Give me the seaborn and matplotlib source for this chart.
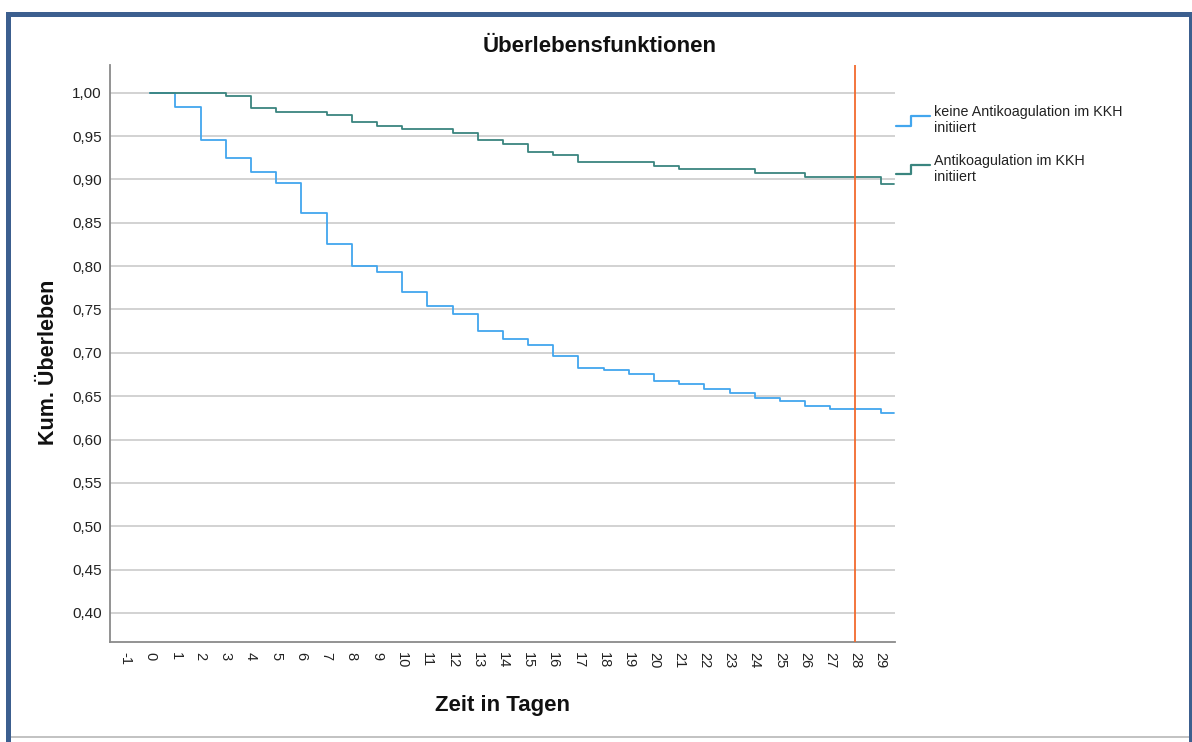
import numpy as np
import pandas as pd
import matplotlib
matplotlib.use("Agg")
import matplotlib.pyplot as plt
import seaborn as sns
from matplotlib.lines import Line2D
from matplotlib.patches import Rectangle
from matplotlib.legend_handler import HandlerBase
from matplotlib.ticker import FuncFormatter, FixedLocator

# ---------------- data ----------------
days = [0, 1, 2, 3, 4, 5, 6, 7, 8, 9, 10, 11, 12, 13, 14, 15, 16, 17, 18, 19,
        20, 21, 22, 23, 24, 25, 26, 27, 28, 29, 29.55]
surv_keine = [1.000, 0.983, 0.945, 0.925, 0.909, 0.896, 0.861, 0.825, 0.800, 0.793,
              0.770, 0.754, 0.745, 0.725, 0.716, 0.709, 0.696, 0.683, 0.680, 0.676,
              0.667, 0.664, 0.658, 0.654, 0.648, 0.645, 0.639, 0.635, 0.635, 0.631, 0.631]
surv_anti = [1.000, 1.000, 1.000, 0.996, 0.982, 0.978, 0.978, 0.974, 0.966, 0.962,
             0.958, 0.958, 0.954, 0.946, 0.941, 0.932, 0.928, 0.920, 0.920, 0.920,
             0.916, 0.912, 0.912, 0.912, 0.907, 0.907, 0.903, 0.903, 0.903, 0.895, 0.895]
group_labels = ["keine Antikoagulation im KKH\ninitiiert", "Antikoagulation im KKH\ninitiiert"]
x_ticks = list(range(-1, 30))
y_ticks = [0.40, 0.45, 0.50, 0.55, 0.60, 0.65, 0.70, 0.75, 0.80, 0.85, 0.90, 0.95, 1.00]
marker_day = 28
title = "Überlebensfunktionen"
xlabel = "Zeit in Tagen"
ylabel = "Kum. Überleben"

# ---------------- style ----------------
sns.set_theme(style="white")
plt.rcParams["font.family"] = ["Liberation Sans", "DejaVu Sans"]
BOLD_FAM = ["Liberation Sans", "DejaVu Sans"]

c_blue = "#42a6ee"
c_green = "#3a857f"
c_orange = "#f26a2e"
c_grid = "#cfcfcf"
c_axis = "#8a8a8a"
c_frame = "#3c5f8f"

W, H = 1192, 742
fig = plt.figure(figsize=(W / 100, H / 100), dpi=100)
ax = fig.add_axes([110 / W, 1 - 642 / H, (895 - 110) / W, (642 - 65) / H])

df = pd.DataFrame({
    "Zeit": days * 2,
    "Surv": surv_keine + surv_anti,
    "Gruppe": [group_labels[0]] * len(days) + [group_labels[1]] * len(days),
})

sns.lineplot(data=df, x="Zeit", y="Surv", hue="Gruppe", hue_order=group_labels,
             palette=[c_blue, c_green], drawstyle="steps-post", estimator=None,
             sort=False, linewidth=1.3, ax=ax, legend=False, zorder=3)

ax.axvline(marker_day, color=c_orange, lw=1.3, zorder=4)

ax.set_xlim(-1.6, 29.57)
ax.set_ylim(0.3665, 1.032)

ax.yaxis.set_major_locator(FixedLocator(y_ticks))
ax.yaxis.set_major_formatter(FuncFormatter(lambda v, p: f"{v:.2f}".replace(".", ",")))
ax.xaxis.set_major_locator(FixedLocator(x_ticks))
ax.xaxis.set_major_formatter(FuncFormatter(lambda v, p: f"{int(round(v))}"))

ax.grid(axis="y", color=c_grid, lw=1.3, zorder=1)
ax.grid(axis="x", visible=False)
for s in ["top", "right"]:
    ax.spines[s].set_visible(False)
for s in ["left", "bottom"]:
    ax.spines[s].set_color(c_axis)
    ax.spines[s].set_linewidth(1.3)

ax.tick_params(axis="y", length=0, labelsize=11, labelcolor="#222222", pad=6)
ax.tick_params(axis="x", direction="inout", length=9, width=1.0, color=c_axis,
               labelsize=10.5, labelcolor="#222222", labelrotation=-90, pad=3)

ax.set_xlabel(xlabel, fontsize=16, fontweight="bold", family=BOLD_FAM, color="#111111")
ax.set_ylabel(ylabel, fontsize=15.5, fontweight="bold", family=BOLD_FAM, color="#111111")
ax.xaxis.set_label_coords(0.5, (642 - 695) / 577)
ax.yaxis.set_label_coords((59 - 110) / 785, (642 - 362) / 577)

fig.text(600 / W, 1 - 46 / H, title, ha="center", va="center", fontsize=16,
         fontweight="bold", family=BOLD_FAM, color="#111111")


# legend with step-shaped handles
class StepHandler(HandlerBase):
    def create_artists(self, legend, orig_handle, xdescent, ydescent, width, height,
                       fontsize, trans):
        x0 = -xdescent
        y0 = -ydescent
        xs = [x0, x0 + 0.45 * width, x0 + 0.45 * width, x0 + width]
        ys = [y0 + 0.05 * height, y0 + 0.05 * height, y0 + 0.95 * height, y0 + 0.95 * height]
        ln = Line2D(xs, ys, color=orig_handle.get_color(), lw=1.6)
        ln.set_transform(trans)
        return [ln]


handles = [Line2D([], [], color=c_blue), Line2D([], [], color=c_green)]
leg = fig.legend(handles, group_labels, loc="upper left",
                 bbox_to_anchor=(896 / W, 1 - 105 / H), frameon=False,
                 handler_map={Line2D: StepHandler()}, handlelength=2.4,
                 handleheight=0.8, handletextpad=0.25, borderpad=0, borderaxespad=0,
                 labelspacing=1.3, fontsize=10.3)
for t in leg.get_texts():
    t.set_linespacing(1.2)
    t.set_color("#222222")

# outer frame
fig.add_artist(Rectangle((6 / W, 0), 5 / W, 1 - 12 / H, transform=fig.transFigure,
                         color=c_frame, lw=0, zorder=10))
fig.add_artist(Rectangle((6 / W, 1 - 17 / H), (W - 6) / W, 5 / H, transform=fig.transFigure,
                         color=c_frame, lw=0, zorder=10))
fig.add_artist(Rectangle((1189 / W, 0), 3 / W, 1 - 12 / H, transform=fig.transFigure,
                         color=c_frame, lw=0, zorder=10))
fig.add_artist(Line2D([11 / W, 1189 / W], [1 - 736.5 / H, 1 - 736.5 / H],
                      transform=fig.transFigure, color="#b8b8b8", lw=1.2))

fig.savefig("out.png", dpi=100)
